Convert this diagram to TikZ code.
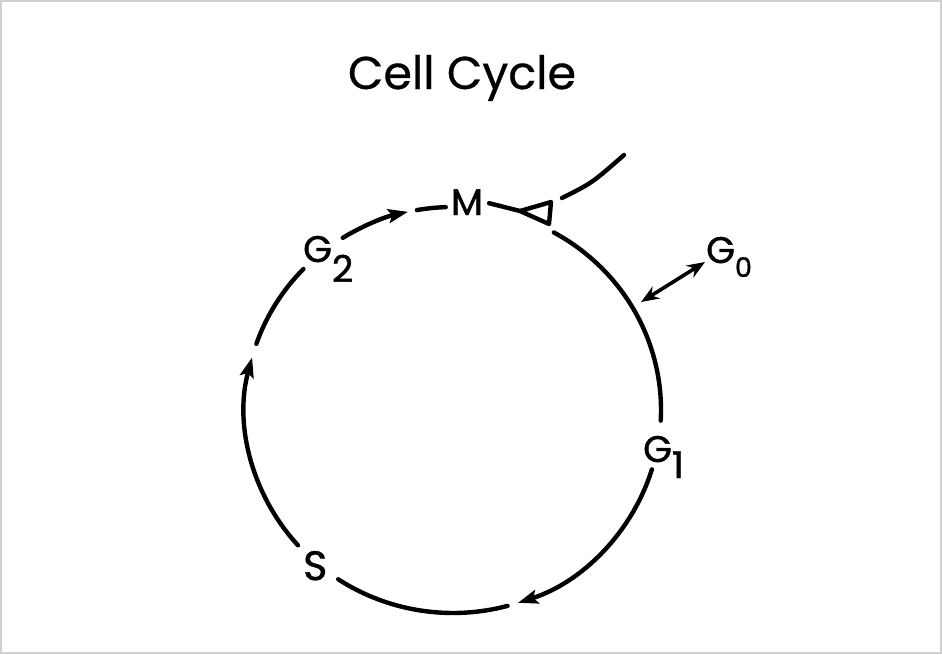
\documentclass[tikz,border=0pt]{standalone}
\usepackage{fontspec}
\setmainfont{Poppins}
\newfontfamily\labfont{Poppins}[FakeBold=1.2]
\newfontfamily\titlefont{Poppins}[FakeBold=0.6]
\usetikzlibrary{arrows.meta,calc}
\newcommand\cycarc[3][cyc]{\draw[#1] ([shift={(C)}]#2:208 and 203) arc[start angle=#2,end angle=#3,x radius=208,y radius=203];}
\begin{document}
\begin{tikzpicture}[x=1pt,y=1pt,
  cyc/.style={line width=4.4pt,line cap=round},
  cyctip/.style={cyc,-{Stealth[length=20pt,width=14pt,inset=4pt]}},
  lab/.style={inner sep=0pt,font=\labfont\fontsize{37}{40}\selectfont},
]
\useasboundingbox (0,0) rectangle (942,-654);
\fill[white] (0,0) rectangle (942,-654);
\draw[black!18,line width=2pt] (1,-1) rectangle (941,-653);

\coordinate (C) at (453,-410);

% labels
\node[font=\titlefont\fontsize{46}{50}\selectfont,anchor=base,inner sep=0pt] (title) at (462,-89) {Cell Cycle};
\node[lab,anchor=base] (M) at (467,-215) {M};
\node[lab,anchor=base west] (G2) at (303,-262) {G\raisebox{-20pt}{2}};
\node[lab,anchor=base west] (G1) at (643,-462) {G\raisebox{-16pt}{1}};
\node[lab,anchor=base west] (G0) at (706,-263) {G\raisebox{-14pt}{\fontsize{27}{30}\selectfont 0}};
\node[lab,font=\labfont\fontsize{41}{44}\selectfont,anchor=base west] (S) at (303,-580) {S};

% cycle arcs (clockwise)
\cycarc[cyctip]{122}{102.5}
\cycarc{100}{92}
\cycarc{61}{-3}
\cycarc[cyctip]{-17}{-71.8}
\cycarc{-74.8}{-123.5}
\cycarc[cyctip]{221.8}{165}
\cycarc{161}{136}

% entry into M
\coordinate (mtip) at (520,-211);
\coordinate (ext0) at (562,-198);
\coordinate (ext1) at (624,-155);
\draw[cyc] ([xshift=6pt,yshift=-1pt]M.east) -- (mtip);
\draw[line width=4.4pt,line join=round,fill=white] (mtip) -- (551,-202) -- (549,-224) -- cycle;
\draw[cyc] (ext0) .. controls (592,-183) .. (ext1);

% G0 exchange
\coordinate (g0a) at (641,-302);
\draw[line width=3.6pt,{Stealth[length=18pt,width=14pt]}-{Stealth[length=18pt,width=14pt]}] (g0a) -- ([xshift=-1pt,yshift=1pt]G0.base west);
\end{tikzpicture}
\end{document}
